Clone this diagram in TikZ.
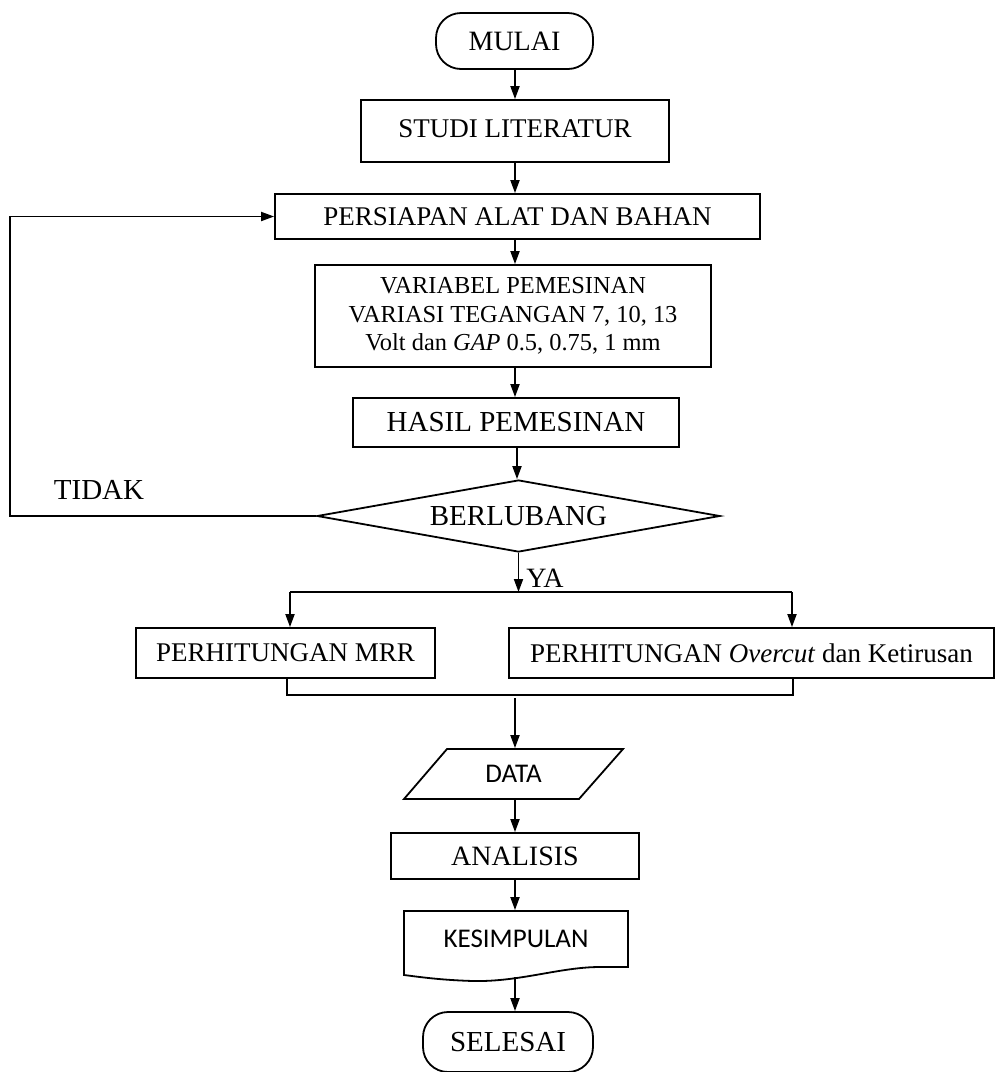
\documentclass[tikz,border=0pt]{standalone}
\usepackage{fontspec}
\setmainfont{Liberation Serif}
\newfontfamily\calib{Carlito}
\usetikzlibrary{shapes.geometric,arrows.meta}
\begin{document}
\begin{tikzpicture}[x=1pt,y=-1pt,line width=1.8pt,
  box/.style={draw,rectangle,inner sep=0pt,align=center,font=\fontsize{27}{28}\selectfont},
  term/.style={draw,rectangle,rounded corners=25pt,inner sep=0pt,font=\fontsize{28}{30}\selectfont},
  arr/.style={-{Triangle[length=13pt,width=9pt]}},
  plain/.style={inner sep=0pt},
  lbl/.style={inner sep=0pt,font=\fontsize{29}{30}\selectfont}]
\useasboundingbox (0,0) rectangle (996,1072);
% nodes
\node[term,minimum width=157pt,minimum height=56pt] (mulai) at (514.5,41) {MULAI};
\node[box,minimum width=308pt,minimum height=62pt] (studi) at (515,131) {\raisebox{5pt}{STUDI LITERATUR}};
\node[box,minimum width=485pt,minimum height=45pt] (persiapan) at (517.5,216.5) {PERSIAPAN ALAT DAN BAHAN};
\node[box,minimum width=396pt,minimum height=102pt,font=\fontsize{24.4}{28.5}\selectfont] (variabel) at (513,316) {VARIABEL PEMESINAN\\VARIASI TEGANGAN 7, 10, 13\\Volt dan \textit{GAP} 0.5, 0.75, 1 mm};
\node[box,minimum width=326pt,minimum height=49pt,font=\fontsize{29}{30}\selectfont] (hasil) at (516,422.5) {HASIL PEMESINAN};
\node[draw,diamond,aspect=5.6,minimum width=403pt,minimum height=72pt,inner sep=0pt,font=\fontsize{29}{30}\selectfont] (berlubang) at (518.5,516) {\raisebox{-3pt}{BERLUBANG}};
\node[lbl] (tidak) at (99,490) {TIDAK};
\node[lbl,font=\fontsize{28}{30}\selectfont] (ya) at (545,578) {YA};
\node[box,minimum width=299pt,minimum height=50pt] (mrr) at (285.5,653) {PERHITUNGAN MRR};
\node[box,minimum width=485pt,minimum height=50pt] (overcut) at (751.5,653) {PERHITUNGAN \textit{Overcut} dan Ketirusan};
% data parallelogram
\node[plain,minimum width=175pt,minimum height=50pt,font=\calib\fontsize{27}{28}\selectfont] (data) at (513.5,774) {\raisebox{-3pt}{DATA}};
\draw (447,749) -- (623,749) -- (579,799) -- (404,799) -- cycle;
\node[box,minimum width=248pt,minimum height=46pt,font=\fontsize{28}{30}\selectfont] (analisis) at (515,856) {ANALISIS};
% document shape
\node[plain,minimum width=224pt,minimum height=56pt,font=\calib\fontsize{27}{28}\selectfont] (kes) at (516,939) {KESIMPULAN};
\draw (404,911) -- (628,911) -- (628,967) -- (600,967)
  .. controls (560,967) and (520,982) .. (473,981)
  .. controls (440,980) and (420,977) .. (404,975) -- cycle;
\coordinate (kesb) at (515,977);
\node[term,minimum width=170pt,minimum height=60pt,font=\fontsize{29}{30}\selectfont] (selesai) at (508,1042) {\raisebox{-3pt}{SELESAI}};
% coordinates for branches
\coordinate (jn) at (518.5,592);
\coordinate (jl) at (290,592);
\coordinate (jr) at (792,592);
\coordinate (ml) at (287,695);
\coordinate (mr) at (793,695);
\coordinate (ms) at (515,698);
\coordinate (loopb) at (10,516);
% connectors
\draw[arr] (mulai.south -| 515,0) -- (studi.north -| 515,0);
\draw[arr] (studi.south -| 515,0) -- (persiapan.north -| 515,0);
\draw[arr] (persiapan.south -| 515,0) -- (variabel.north -| 515,0);
\draw[arr] (variabel.south -| 515,0) -- (hasil.north -| 515,0);
\draw[arr] (hasil.south -| 517,0) -- (berlubang.north -| 517,0);
\draw[arr] (berlubang.west) -- (loopb) |- (persiapan.west);
\draw[arr] (berlubang.south) -- (jn);
\draw (jl) -- (jr);
\draw[arr] (jl) -- (mrr.north -| jl);
\draw[arr] (jr) -- (overcut.north -| jr);
\draw (mrr.south -| ml) -- (ml) -- (mr) -- (overcut.south -| mr);
\draw[arr] (ms) -- (data.north -| ms);
\draw[arr] (data.south -| ms) -- (analisis.north -| ms);
\draw[arr] (analisis.south -| ms) -- (kes.north -| ms);
\draw[arr] (kesb) -- (selesai.north -| kesb);
\end{tikzpicture}
\end{document}
